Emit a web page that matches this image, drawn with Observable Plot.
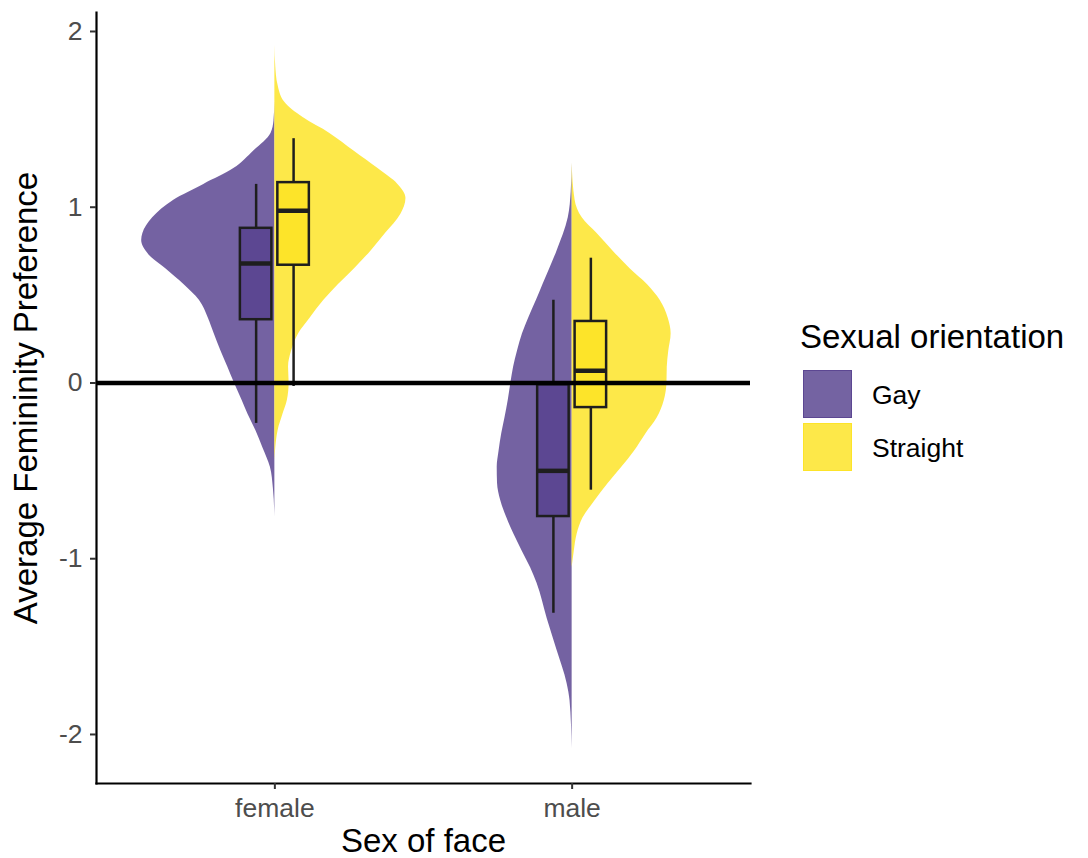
<!DOCTYPE html>
<html>
<head>
<meta charset="utf-8">
<script src="https://cdn.jsdelivr.net/npm/d3@7"></script>
<script src="https://cdn.jsdelivr.net/npm/@observablehq/plot@0.6"></script>
<style>
  html, body { margin: 0; padding: 0; background: #ffffff; }
  body { font-family: "Liberation Sans", Arial, Helvetica, sans-serif; }
  #wrap { position: relative; width: 1088px; height: 858px; overflow: hidden; }
  #chart svg { display: block; }
  .lg { position: absolute; line-height: 1; white-space: nowrap; color: #000; }
  .lg-title { font-size: 33px; }
  .lg-label { font-size: 26.5px; }
  .lg-key { position: absolute; box-sizing: border-box; }
</style>
</head>
<body>
<div id="wrap">
  <div id="chart"></div>
  <div id="legend"></div>
</div>
<script>
// ---------- data ----------
const sexOfFace = ["female", "male"];
const orientations = ["Gay", "Straight"];
const boxColors = ["#5c4792", "#fde429"];

const yTitle = "Average Femininity Preference";
const xTitle = "Sex of face";
const legendTitle = "Sexual orientation";
const yTicks = [-2, -1, 0, 1, 2];

// violin outlines: value (y) and half-width (in category units)
const femaleGayValue   = [1.60, 1.49, 1.42, 1.32, 1.22, 1.13, 1.04, 0.94, 0.85, 0.81, 0.73, 0.65, 0.56, 0.47, 0.37, 0.28, 0.18, 0.09, 0.00, -0.10, -0.18, -0.27, -0.37, -0.48, -0.60, -0.76];
const femaleGayWidth   = [0, 0.003, 0.013, 0.071, 0.138, 0.239, 0.340, 0.411, 0.444, 0.448, 0.424, 0.367, 0.306, 0.254, 0.224, 0.204, 0.181, 0.158, 0.136, 0.110, 0.090, 0.064, 0.040, 0.015, 0.005, 0];

const femaleStraightValue = [1.92, 1.80, 1.70, 1.60, 1.51, 1.42, 1.32, 1.22, 1.13, 1.05, 0.96, 0.85, 0.75, 0.65, 0.56, 0.47, 0.37, 0.28, 0.18, 0.09, 0.00, -0.10, -0.18, -0.27, -0.37, -0.44];
const femaleStraightWidth = [0, 0.003, 0.010, 0.032, 0.095, 0.185, 0.266, 0.347, 0.414, 0.441, 0.424, 0.372, 0.323, 0.268, 0.214, 0.165, 0.119, 0.080, 0.056, 0.046, 0.048, 0.042, 0.027, 0.011, 0.003, 0];

const maleGayValue = [1.25, 1.09, 0.94, 0.75, 0.56, 0.47, 0.37, 0.28, 0.18, 0.09, 0.00, -0.10, -0.20, -0.29, -0.39, -0.48, -0.57, -0.67, -0.77, -0.86, -0.96, -1.05, -1.14, -1.34, -1.52, -1.71, -1.81, -2.08];
const maleGayWidth = [0, 0.003, 0.013, 0.051, 0.098, 0.120, 0.146, 0.167, 0.184, 0.197, 0.206, 0.215, 0.226, 0.237, 0.246, 0.252, 0.251, 0.240, 0.219, 0.196, 0.167, 0.140, 0.118, 0.084, 0.051, 0.017, 0.007, 0];

const maleStraightValue = [1.25, 1.04, 0.94, 0.85, 0.75, 0.65, 0.56, 0.47, 0.37, 0.28, 0.18, 0.09, 0.00, -0.10, -0.20, -0.29, -0.39, -0.48, -0.57, -0.67, -0.77, -0.86, -0.96, -1.05];
const maleStraightWidth = [0, 0.010, 0.034, 0.084, 0.138, 0.195, 0.253, 0.296, 0.323, 0.333, 0.325, 0.320, 0.319, 0.310, 0.286, 0.248, 0.209, 0.167, 0.122, 0.077, 0.036, 0.017, 0.007, 0];

// box plot statistics, order: female-Gay, female-Straight, male-Gay, male-Straight
const boxSex         = ["female", "female", "male", "male"];
const boxOrientation = ["Gay", "Straight", "Gay", "Straight"];
const boxLower  = [-0.23, -0.02, -1.31, -0.61];
const boxQ1     = [0.36, 0.67, -0.76, -0.14];
const boxMedian = [0.68, 0.98, -0.50, 0.07];
const boxQ3     = [0.88, 1.14, -0.01, 0.35];
const boxUpper  = [1.13, 1.39, 0.47, 0.71];

// ---------- build tables ----------
const side = o => (o === "Gay" ? -1 : 1);
const pos = s => sexOfFace.indexOf(s) + 1;
const boxOffset = 0.063, boxHalf = 0.053;

const violinSets = [
  ["female", "Gay", femaleGayValue, femaleGayWidth],
  ["female", "Straight", femaleStraightValue, femaleStraightWidth],
  ["male", "Gay", maleGayValue, maleGayWidth],
  ["male", "Straight", maleStraightValue, maleStraightWidth]
];
const violinRows = violinSets.flatMap(([sex, orientation, vals, ws]) =>
  vals.map((v, i) => ({
    key: sex + "-" + orientation,
    sex, orientation,
    value: v,
    center: pos(sex),
    edge: pos(sex) + side(orientation) * ws[i]
  }))
);

const boxRows = boxSex.map((sex, i) => {
  const o = boxOrientation[i];
  const c = pos(sex) + side(o) * boxOffset;
  return {
    sex, orientation: o, c, left: c - boxHalf, right: c + boxHalf,
    lower: boxLower[i], q1: boxQ1[i], median: boxMedian[i], q3: boxQ3[i], upper: boxUpper[i]
  };
});

// ---------- plot ----------
const font = "'Liberation Sans', Arial, Helvetica, sans-serif";
const chart = Plot.plot({
  width: 1088,
  height: 858,
  marginLeft: 96,
  marginRight: 338,
  marginTop: 12,
  marginBottom: 75,
  style: { fontFamily: font, background: "#ffffff", overflow: "visible" },
  x: { domain: [0.4, 2.6] },
  y: { domain: [-2.279, 2.108] },
  color: { domain: orientations, range: boxColors },
  marks: [
    Plot.areaX(violinRows, {
      y: "value", x1: "center", x2: "edge", z: "key",
      fill: "orientation", fillOpacity: 0.85, curve: "monotone-y"
    }),
    Plot.ruleX(boxRows, { x: "c", y1: "lower", y2: "upper", stroke: "#1e1e1e", strokeWidth: 2.5 }),
    Plot.rect(boxRows, { x1: "left", x2: "right", y1: "q1", y2: "q3", fill: "orientation", stroke: "#1e1e1e", strokeWidth: 2.5 }),
    Plot.ruleY(boxRows, { y: "median", x1: "left", x2: "right", stroke: "#1e1e1e", strokeWidth: 4.5 }),
    Plot.ruleY([0], { stroke: "#000", strokeWidth: 4.5 }),
    Plot.frame({ anchor: "left", stroke: "#000", strokeWidth: 2.2 }),
    Plot.frame({ anchor: "bottom", stroke: "#000", strokeWidth: 2.2 }),
    Plot.axisY({
      ticks: yTicks, tickFormat: d => String(d), tickSize: 6, tickPadding: 8,
      fontSize: 26.5, fill: "#4d4d4d", stroke: "#333", strokeWidth: 2, label: null
    }),
    Plot.axisY({
      ticks: [], tickSize: 0, label: yTitle, labelAnchor: "center", labelArrow: false,
      labelOffset: 83, fontSize: 33, fill: "#000"
    }),
    Plot.axisX({
      ticks: [1, 2], tickFormat: d => sexOfFace[d - 1], tickSize: 6, tickPadding: 9,
      fontSize: 26.5, fill: "#4d4d4d", stroke: "#333", strokeWidth: 2, label: null
    }),
    Plot.axisX({
      ticks: [], tickSize: 0, label: xTitle, labelAnchor: "center", labelArrow: false,
      labelOffset: 68, fontSize: 33, fill: "#000"
    })
  ]
});
document.getElementById("chart").appendChild(chart);

// ---------- legend (HTML, to the right of the panel) ----------
const legend = document.getElementById("legend");
function addDiv(cls, text, styles) {
  const d = document.createElement("div");
  d.className = cls;
  if (text) d.textContent = text;
  Object.assign(d.style, styles);
  legend.appendChild(d);
  return d;
}
addDiv("lg lg-title", legendTitle, { left: "800px", top: "320px" });
const keyTops = [370, 423];
const labelTops = [381.5, 434.5];
orientations.forEach((o, i) => {
  const col = d3.color(boxColors[i]);
  const fillCol = d3.interpolateRgb("#ffffff", boxColors[i])(0.85);
  addDiv("lg-key", "", {
    left: "803px", top: keyTops[i] + "px", width: "49px", height: "48px",
    background: fillCol, border: "1px solid " + col.formatHex()
  });
  addDiv("lg lg-label", o, { left: "872px", top: labelTops[i] + "px" });
});
</script>
</body>
</html>
